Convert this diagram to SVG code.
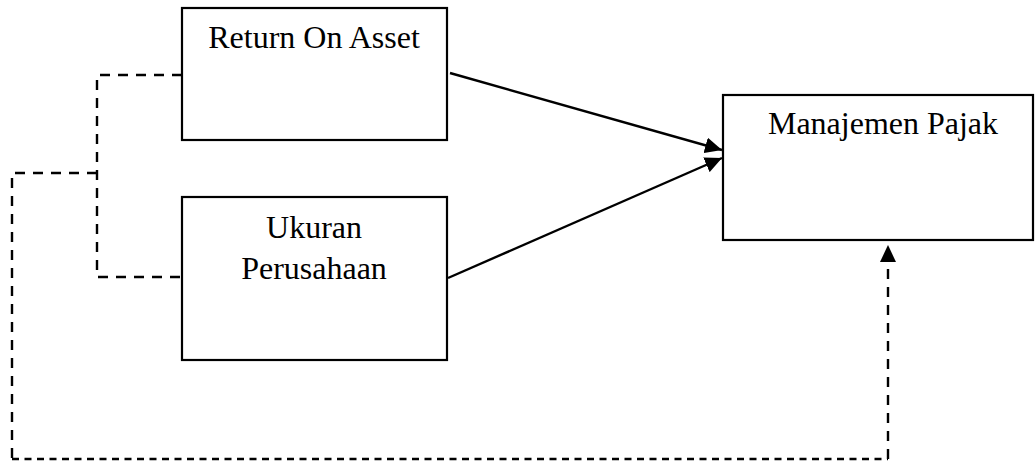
<svg xmlns="http://www.w3.org/2000/svg" width="1035" height="463" viewBox="0 0 1035 463">
  <style>
    .box { fill: #ffffff; stroke: #000000; stroke-width: 2.2; }
    .label { font-family: "Liberation Serif", "Times New Roman", serif; font-size: 32px; fill: #000000; text-anchor: middle; }
    .solid { fill: none; stroke: #000000; stroke-width: 2.4; }
    .dash { fill: none; stroke: #000000; stroke-width: 2.4; stroke-dasharray: 10 8; }
    .dash-fine { fill: none; stroke: #000000; stroke-width: 2.4; stroke-dasharray: 7 5.5; }
  </style>
  <defs>
    <marker id="arrow" viewBox="0 0 17 16" refX="17" refY="8" markerWidth="17" markerHeight="16" markerUnits="userSpaceOnUse" orient="auto">
      <path d="M0,0 L17,8 L0,16 Z" fill="#000000"/>
    </marker>
  </defs>

  <g id="node-roa">
    <rect class="box" x="182" y="8" width="265" height="132"/>
    <text class="label" x="314" y="48">Return On Asset</text>
  </g>

  <g id="node-ukuran">
    <rect class="box" x="182" y="197" width="265" height="163"/>
    <text class="label" x="314" y="238">Ukuran</text>
    <text class="label" x="314" y="279">Perusahaan</text>
  </g>

  <g id="node-pajak">
    <rect class="box" x="723" y="95" width="310" height="145"/>
    <text class="label" x="883" y="134">Manajemen Pajak</text>
  </g>

  <g id="connectors">
    <line class="solid" x1="450" y1="73" x2="722" y2="150" marker-end="url(#arrow)"/>
    <line class="solid" x1="448" y1="278" x2="722" y2="158" marker-end="url(#arrow)"/>
    <path class="dash" d="M182,75 H97 V277 H182"/>
    <path class="dash" d="M97,173 H12 V459"/>
    <path class="dash-fine" d="M12,459 H888"/>
    <path class="dash" d="M888,459 V245" marker-end="url(#arrow)"/>
  </g>
</svg>
